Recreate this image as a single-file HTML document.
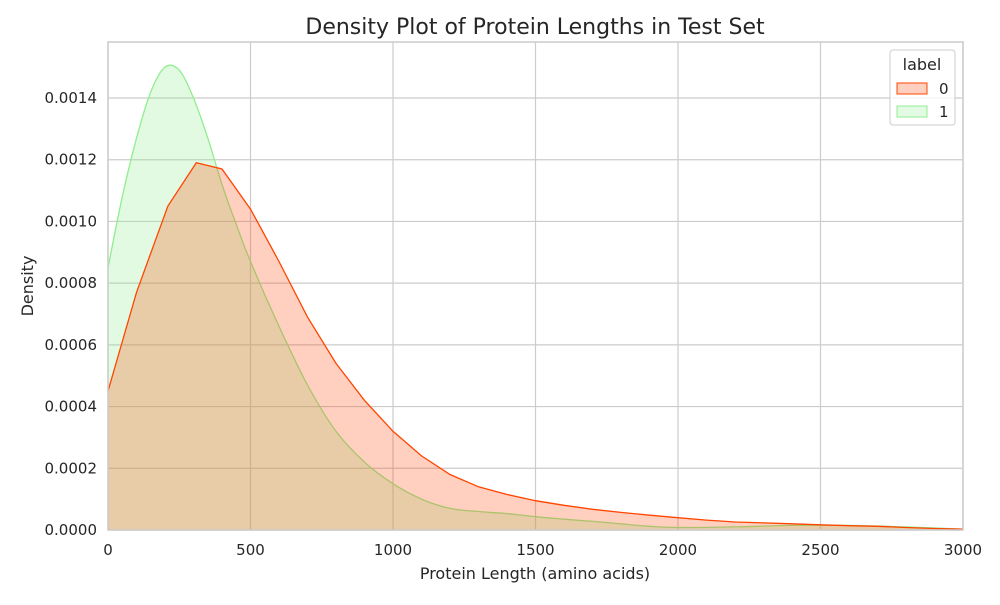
<!DOCTYPE html>
<html><head><meta charset="utf-8"><style>
body{margin:0;background:#fff;font-family:"Liberation Sans","DejaVu Sans",sans-serif}
svg text{font-family:"DejaVu Sans","Liberation Sans",sans-serif;fill:#262626}
</style></head><body>
<svg id="chart" width="1000" height="600" xmlns="http://www.w3.org/2000/svg">
<text x="535" y="34" text-anchor="middle" font-size="22">Density Plot of Protein Lengths in Test Set</text>
<g id="grid"></g><g id="series"></g><g id="axes"></g>
<text x="535" y="579" text-anchor="middle" font-size="16">Protein Length (amino acids)</text>
<text transform="translate(33,286) rotate(-90)" text-anchor="middle" font-size="16">Density</text>
<g>
<rect x="890" y="50" width="65" height="75" rx="3" fill="#fff" fill-opacity="0.8" stroke="#ccc"/>
<text x="922" y="70" text-anchor="middle" font-size="16">label</text>
<rect x="897" y="83" width="30" height="11" fill="rgba(255,69,0,0.25)" stroke="#ff4500"/>
<text x="939" y="94" font-size="15">0</text>
<rect x="897" y="106" width="30" height="11" fill="rgba(144,238,144,0.25)" stroke="#90ee90"/>
<text x="939" y="117" font-size="15">1</text>
</g>
</svg>
<script>
const xTicks=[0,500,1000,1500,2000,2500,3000];
const yTicks=[0,0.0002,0.0004,0.0006,0.0008,0.0010,0.0012,0.0014];
const x0=[0,100,210,310,400,500,600,700,800,900,1000,1100,1200,1300,1400,1500,1600,1700,1800,1900,2000,2100,2200,2300,2400,2500,2600,2700,2800,2900,3000];
const y0=[0.00045,0.00077,0.00105,0.00119,0.00117,0.00104,0.00087,0.00069,0.00054,0.00042,0.00032,0.00024,0.00018,0.00014,0.000115,0.000095,0.00008,0.000067,0.000057,0.000048,0.00004,0.000032,0.000026,0.000023,0.00002,0.000017,0.000014,0.000012,0.000008,0.000005,0.000003];
const x1=[0,50,100,150,200,250,300,350,400,450,500,600,700,800,900,1000,1100,1200,1300,1400,1500,1600,1700,1800,1900,2000,2200,2400,2600,2800,3000];
const y1=[0.00085,0.00108,0.00127,0.00142,0.0015,0.00149,0.0014,0.00127,0.00112,0.00099,0.00087,0.00066,0.00047,0.00032,0.00022,0.00015,0.0001,0.00007,0.00006,0.000053,0.000043,0.000035,0.000028,0.00002,0.000012,0.000008,0.00001,0.000015,0.000015,0.00001,0.000003];
const L=108,R=963,T=42,B=530;
const sx=v=>L+(v-0)/3000*(R-L);
const sy=v=>B-v/0.0014*(B-98);
const NS="http://www.w3.org/2000/svg";
function mk(p,t,a){const e=document.createElementNS(NS,t);for(const k in a)e.setAttribute(k,a[k]);p.appendChild(e);return e;}
const grid=document.getElementById('grid'),axes=document.getElementById('axes'),ser=document.getElementById('series');
xTicks.forEach(v=>{
 const l=mk(grid,'line',{x1:sx(v),x2:sx(v),y1:T,y2:B,stroke:'#cccccc','stroke-width':1.2});
 
 
 const t=mk(axes,'text',{x:sx(v),y:B+25,'text-anchor':'middle','font-size':15});t.textContent=v;
 
 
});
yTicks.forEach(v=>{
 const l=mk(grid,'line',{x1:L,x2:R,y1:sy(v),y2:sy(v),stroke:'#cccccc','stroke-width':1.2});
 
 
 const t=mk(axes,'text',{x:L-11,y:sy(v)+5,'text-anchor':'end','font-size':15});t.textContent=v.toFixed(4);
 
 
});
const frame=mk(axes,'rect',{x:L,y:T,width:R-L,height:B-T,fill:'none',stroke:'#cccccc','stroke-width':1.5});


function pathD(P,smooth){
 if(!smooth) return 'M'+P.map(p=>p[0].toFixed(1)+','+p[1].toFixed(1)).join(' L');
 let d='M'+P[0][0].toFixed(1)+','+P[0][1].toFixed(1);
 for(let i=0;i<P.length-1;i++){
  const p0=P[Math.max(0,i-1)],p1=P[i],p2=P[i+1],p3=P[Math.min(P.length-1,i+2)];
  const c1=[p1[0]+(p2[0]-p0[0])/6,p1[1]+(p2[1]-p0[1])/6],c2=[p2[0]-(p3[0]-p1[0])/6,p2[1]-(p3[1]-p1[1])/6];
  d+=' C'+c1.map(n=>n.toFixed(1))+' '+c2.map(n=>n.toFixed(1))+' '+p2.map(n=>n.toFixed(1));
 }
 return d;
}
function draw(xs,ys,fill,stroke,name,smooth){
 const P=xs.map((v,i)=>[sx(v),sy(ys[i])]);
 const d=pathD(P,smooth);
 const a=mk(ser,'path',{d:d+' L'+sx(xs[xs.length-1])+','+B+' L'+sx(xs[0])+','+B+' Z',fill:fill,stroke:'none'});
 
 
 const l=mk(ser,'path',{d:d,fill:'none',stroke:stroke,'stroke-width':1.3});
 
 
}
draw(x1,y1,'rgba(144,238,144,0.27)','#90ee90','label-1-density',true);
draw(x0,y0,'rgba(255,69,0,0.25)','#ff4500','label-0-density',false);
</script>
</body></html>
